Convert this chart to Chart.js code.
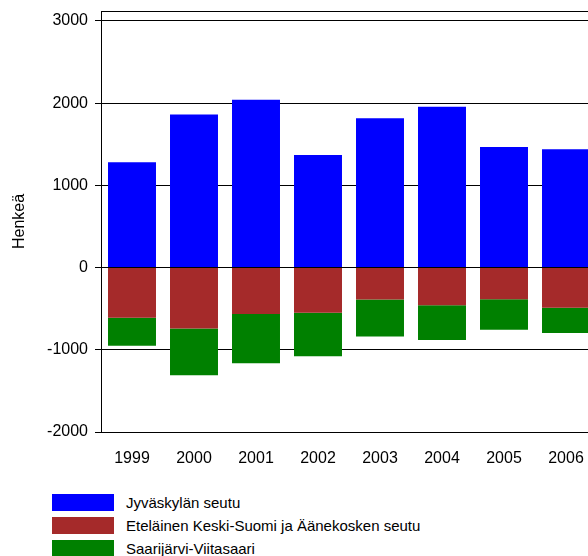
<!DOCTYPE html>
<html>
<head>
<meta charset="utf-8">
<script src="https://cdn.jsdelivr.net/npm/chart.js@4.4.1/dist/chart.umd.min.js"></script>
<style>
  html, body { margin: 0; padding: 0; background: #fff; overflow: hidden; }
  #wrap { position: relative; width: 588px; height: 556px; overflow: hidden; }
  #chart { position: absolute; left: 0; top: 0; }
  #legend { position: absolute; left: 52px; top: 491px; font: 15px "Liberation Sans", Arial, sans-serif; color: #000; }
  .item { display: flex; align-items: center; height: 23px; white-space: nowrap; }
  .box { width: 62px; height: 17px; margin-right: 12px; }
</style>
</head>
<body>
<div id="wrap">
  <canvas id="chart" width="610" height="480"></canvas>
  <div id="legend"></div>
</div>
<script>
// data
const years = ['1999', '2000', '2001', '2002', '2003', '2004', '2005', '2006'];
const jyvaskyla = [1280, 1860, 2040, 1370, 1815, 1955, 1465, 1440];
const etelainen = [-610, -740, -565, -550, -390, -460, -385, -490];
const saarijarvi = [-340, -570, -600, -530, -450, -420, -370, -305];
const seriesNames = ['Jyväskylän seutu', 'Eteläinen Keski-Suomi ja Äänekosken seutu', 'Saarijärvi-Viitasaari'];
const yTicks = [-2000, -1000, 0, 1000, 2000, 3000];
const yMin = -2000;
const yMax = 3120;

const colors = ['#0000ff', '#a52a2a', '#008000'];

Chart.defaults.font.family = '"Liberation Sans", Arial, sans-serif';
Chart.defaults.font.size = 16;
Chart.defaults.color = '#000';

// top edge of the plot frame
const frameTop = {
  id: 'frameTop',
  afterDraw(chart) {
    const { ctx, chartArea } = chart;
    ctx.save();
    ctx.strokeStyle = '#000';
    ctx.lineWidth = 1;
    ctx.beginPath();
    ctx.moveTo(chartArea.left, Math.round(chartArea.top) + 0.5);
    ctx.lineTo(chartArea.right, Math.round(chartArea.top) + 0.5);
    ctx.stroke();
    ctx.restore();
  }
};

const chart = new Chart(document.getElementById('chart'), {
  type: 'bar',
  data: {
    labels: years,
    datasets: [jyvaskyla, etelainen, saarijarvi].map((values, i) => ({
      label: seriesNames[i],
      data: values,
      backgroundColor: colors[i],
      borderWidth: 0,
      categoryPercentage: 1,
      barPercentage: 0.774
    }))
  },
  options: {
    responsive: false,
    animation: false,
    devicePixelRatio: 1,
    layout: { padding: { top: 11, right: 13, bottom: 0, left: 0 } },
    plugins: {
      legend: { display: false },
      tooltip: { enabled: false }
    },
    scales: {
      x: {
        stacked: true,
        grid: { display: false, drawTicks: false },
        border: { display: false },
        ticks: { padding: 17, maxRotation: 0 },
        afterFit(scale) {
          scale.height = 48;
          scale.paddingLeft = 0;
          scale.paddingRight = 0;
        }
      },
      y: {
        stacked: true,
        min: yMin,
        max: yMax,
        z: 1,
        afterBuildTicks(scale) {
          scale.ticks = yTicks.map(v => ({ value: v }));
        },
        afterFit(scale) {
          scale.width = 101;
          scale.paddingTop = 0;
          scale.paddingBottom = 0;
        },
        grid: { color: '#000', lineWidth: 1, tickLength: 6, tickColor: '#000' },
        border: { display: true, color: '#000', width: 1 },
        ticks: {
          padding: 7,
          callback: v => String(v)
        },
        title: {
          display: true,
          text: 'Henkeä',
          padding: { top: 10, bottom: 0 }
        }
      }
    }
  },
  plugins: [frameTop]
});

// legend, one entry per row, built from the chart's datasets
const legendEl = document.getElementById('legend');
chart.data.datasets.forEach(ds => {
  const row = document.createElement('div');
  row.className = 'item';
  const box = document.createElement('span');
  box.className = 'box';
  box.style.background = ds.backgroundColor;
  const txt = document.createElement('span');
  txt.textContent = ds.label;
  row.appendChild(box);
  row.appendChild(txt);
  legendEl.appendChild(row);
});
</script>
</body>
</html>
